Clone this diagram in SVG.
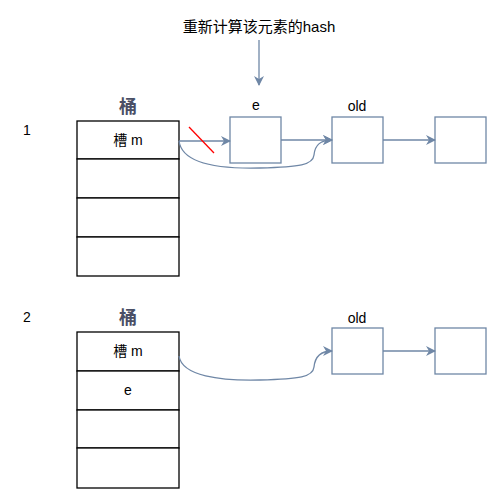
<svg xmlns="http://www.w3.org/2000/svg" width="500" height="503" viewBox="0 0 500 503">
<style>
.t{font-family:"Liberation Sans","Noto Sans CJK SC",sans-serif;font-size:14px;fill:#000;text-anchor:middle}
.h{font-family:"Noto Sans CJK SC",sans-serif;font-size:18px;font-weight:bold;fill:#4a4f66;text-anchor:middle}
.cell{fill:#fff;stroke:#000;stroke-width:1.3}
.node{fill:#fff;stroke:#6f87a6;stroke-width:1.3}
.c{fill:none;stroke:#6f87a6;stroke-width:1.3}
</style>
<defs>
<marker id="a" viewBox="0 0 10 10" refX="9" refY="5" markerWidth="10" markerHeight="10" markerUnits="userSpaceOnUse" orient="auto">
<path d="M0,0 L10,5 L0,10 L3,5 z" fill="#6f87a6"/>
</marker>
</defs>
<rect width="500" height="503" fill="#fff"/>
<text class="t" x="27" y="135">1</text>
<text class="t" x="27" y="322">2</text>
<text class="t" x="259" y="32" style="font-size:15px">重新计算该元素的hash</text>
<g id="bucket1">
<text class="h" x="128" y="113">桶</text>
<rect class="cell" x="77" y="121" width="102" height="38"/>
<rect class="cell" x="77" y="159" width="102" height="39"/>
<rect class="cell" x="77" y="198" width="102" height="39"/>
<rect class="cell" x="77" y="237" width="102" height="39"/>
<text class="t" x="128" y="145">槽 m</text>
</g>
<g id="e1"><rect class="node" x="230" y="117" width="51" height="46"/><text class="t" x="256" y="110">e</text></g>
<g id="old1"><rect class="node" x="332" y="117" width="51" height="46"/><text class="t" x="357" y="111">old</text></g>
<g id="n1"><rect class="node" x="435" y="117" width="51" height="46"/></g>
<g id="bucket2">
<text class="h" x="128" y="324">桶</text>
<rect class="cell" x="77" y="332" width="102" height="39"/>
<rect class="cell" x="77" y="371" width="102" height="39"/>
<rect class="cell" x="77" y="410" width="102" height="38"/>
<rect class="cell" x="77" y="448" width="102" height="40"/>
<text class="t" x="128" y="356">槽 m</text>
<text class="t" x="128" y="395">e</text>
</g>
<g id="old2"><rect class="node" x="332" y="328" width="51" height="46"/><text class="t" x="357" y="323">old</text></g>
<g id="n2"><rect class="node" x="435" y="328" width="51" height="46"/></g>
<g id="connectors">
<path class="c" d="M259,40 L259,85" marker-end="url(#a)"/>
<path class="c" d="M179,141 L230,141" marker-end="url(#a)"/>
<line x1="189" y1="127" x2="214" y2="153" stroke="#ff0000" stroke-width="1.3"/>
<path class="c" d="M281,140 L332,140" marker-end="url(#a)"/>
<path class="c" d="M383,140 L435,140" marker-end="url(#a)"/>
<path class="c" d="M179,141 C182,164 220,169 260,168 C300,167 313,165 314,155 C315,145 320,140 332,140" marker-end="url(#a)"/>
<path class="c" d="M179,356 C182,376 220,381 260,380 C300,379 313,377 314,367 C315,357 320,351 332,351" marker-end="url(#a)"/>
<path class="c" d="M383,351 L435,351" marker-end="url(#a)"/>
</g>
</svg>
